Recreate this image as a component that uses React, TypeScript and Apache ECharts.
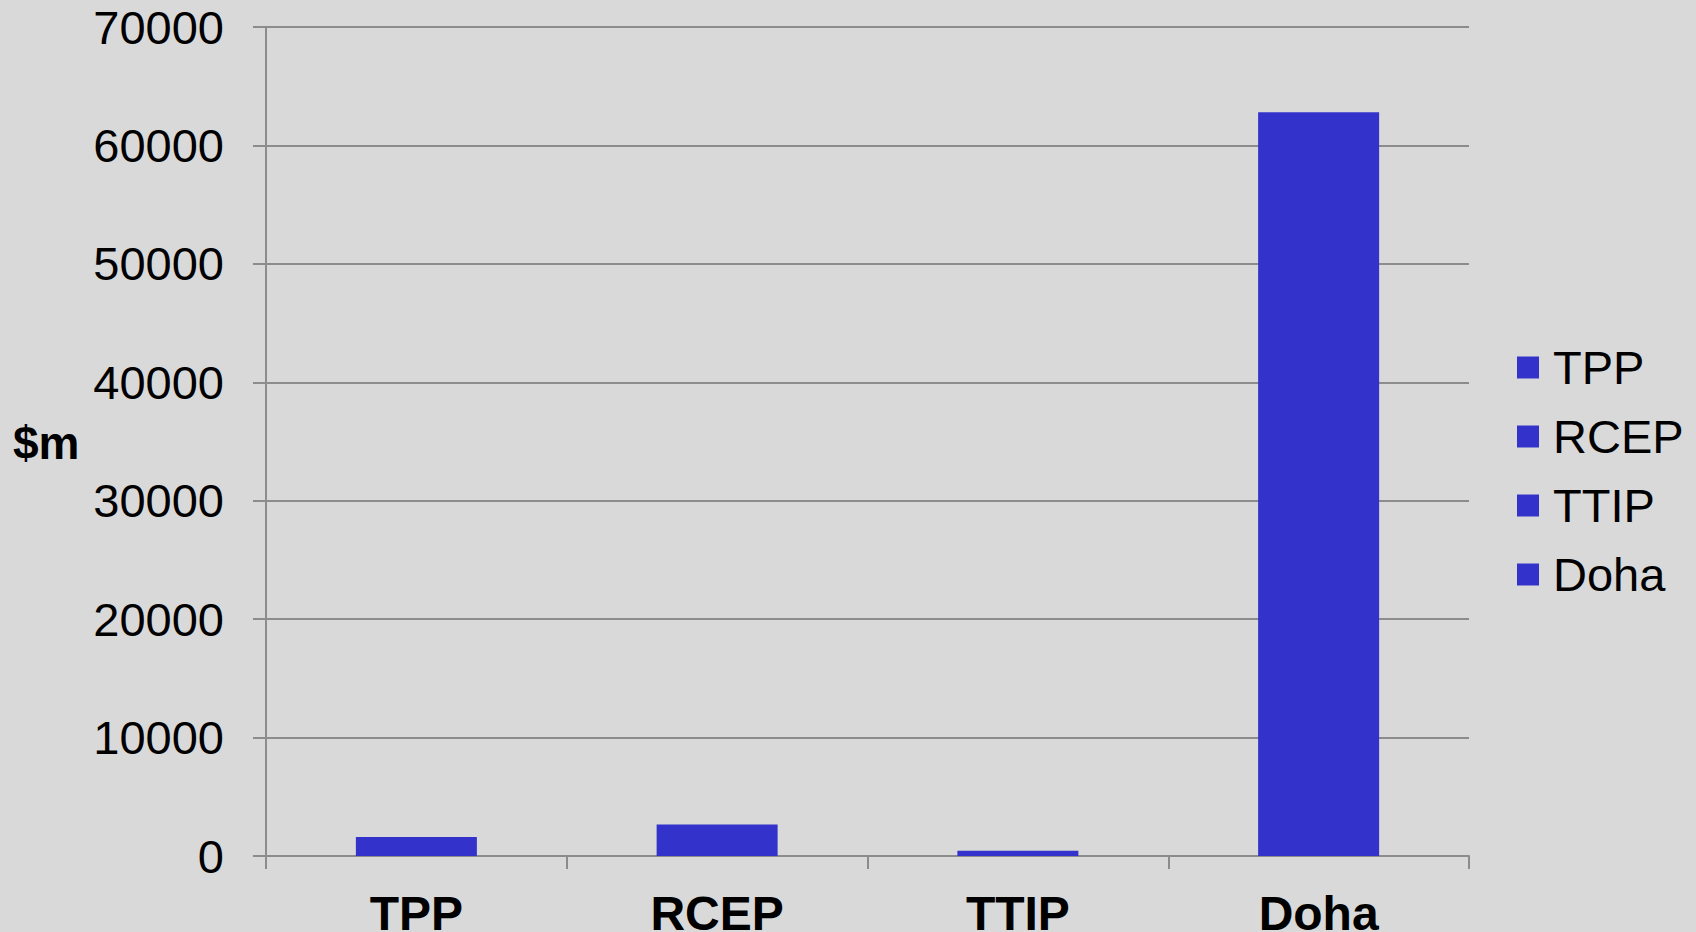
import React, { useEffect, useRef } from "react";
import * as echarts from "echarts";

const categories = ["TPP", "RCEP", "TTIP", "Doha"];
const values = [1600, 2650, 450, 62800];
const yTicks = [0, 10000, 20000, 30000, 40000, 50000, 60000, 70000];
const yAxisTitle = "$m";

const FONT = "'Liberation Sans', Arial, Helvetica, sans-serif";
const BAR = "#3333CC";
const GRID = "#8C8C8C";

export default function App() {
  const ref = useRef<HTMLDivElement>(null);
  useEffect(() => {
    if (!ref.current) return;
    const chart = echarts.init(ref.current, undefined, { renderer: "svg" });
    const series = categories.map((c, i) => ({
      name: c,
      type: "bar",
      stack: "all",
      barWidth: 121,
      itemStyle: { color: BAR },
      data: categories.map((_, j) => (j === i ? values[i] : null)),
    }));
    chart.setOption({
      animation: false,
      backgroundColor: "#D9D9D9",
      textStyle: { fontFamily: FONT },
      grid: {
        left: 266,
        right: 227,
        top: 27,
        bottom: 76,
        containLabel: false,
        outerBoundsMode: "none",
      },
      legend: {
        orient: "vertical",
        left: 1512,
        top: 339,
        itemWidth: 22,
        itemHeight: 22,
        itemGap: 22,
        icon: "rect",
        textStyle: { fontSize: 47, color: "#000", fontFamily: FONT, padding: [0, 0, 0, 9] },
        data: categories,
      },
      xAxis: {
        type: "category",
        data: categories,
        axisLine: { lineStyle: { color: GRID, width: 2 } },
        axisTick: { show: true, length: 13, lineStyle: { color: GRID, width: 2 } },
        axisLabel: {
          fontSize: 48,
          fontWeight: "bold",
          color: "#000",
          fontFamily: FONT,
          margin: 33,
          interval: 0,
        },
      },
      yAxis: {
        type: "value",
        min: yTicks[0],
        max: yTicks[yTicks.length - 1],
        interval: 10000,
        axisLine: { show: true, lineStyle: { color: GRID, width: 2 } },
        axisTick: { show: true, length: 13, lineStyle: { color: GRID, width: 2 } },
        splitLine: { show: true, lineStyle: { color: GRID, width: 2 } },
        axisLabel: {
          fontSize: 47,
          color: "#000",
          fontFamily: FONT,
          margin: 42,
          formatter: (v: number) => String(v),
        },
      },
      graphic: [
        {
          type: "text",
          left: 13,
          top: 420,
          style: {
            text: yAxisTitle,
            font: `bold 46px ${FONT}`,
            fill: "#000",
          },
        },
      ],
      series,
    });
    return () => chart.dispose();
  }, []);
  return (
    <div
      ref={ref}
      style={{ position: "fixed", left: 0, top: 0, width: 1696, height: 932 }}
    />
  );
}
